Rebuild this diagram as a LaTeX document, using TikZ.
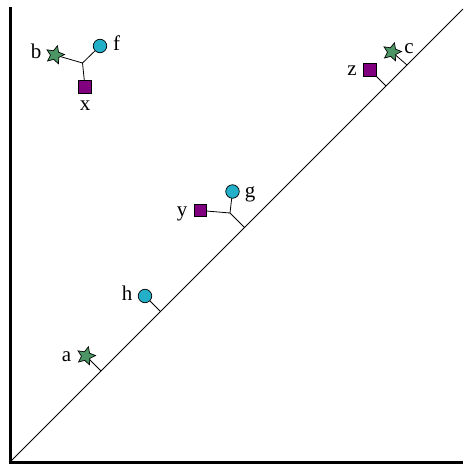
\documentclass[tikz,border=0pt]{standalone}
\usepackage{fontspec}
\setmainfont{Liberation Serif}
\usetikzlibrary{shapes.geometric,backgrounds}
\definecolor{glc}{RGB}{35,175,200}
\definecolor{pur}{RGB}{128,0,128}
\definecolor{grn}{RGB}{75,150,100}
\begin{document}
\begin{tikzpicture}[x=1pt,y=-1pt,
 circ/.style={circle,draw,fill=glc,minimum size=13.5pt,inner sep=0pt,line width=0.7pt},
 sq/.style={rectangle,draw,fill=pur,minimum size=12.5pt,inner sep=0pt,line width=0.7pt},
 st/.style={star,star points=5,star point ratio=2.1,draw,fill=grn,minimum size=19pt,inner sep=0pt,line width=0.7pt,rotate=-15},
 lab/.style={font=\fontsize{21}{21}\selectfont,inner sep=0pt,anchor=base},
 bond/.style={line width=0.8pt},
 axis/.style={line width=3pt}]
\useasboundingbox (0,0) rectangle (464,464);
% axes
\coordinate (top) at (10,7);
\coordinate (org) at (10,462);
\coordinate (right) at (463,462);
\coordinate (d0) at (11,461);
\coordinate (d1) at (463,9);
\draw[axis] (top) -- (org) -- (right);
\draw[bond] (d0) -- (d1);
% attach points on diagonal
\coordinate (pa) at (101,371);
\coordinate (ph) at (160.5,311.5);
\coordinate (pyg) at (244.5,227.5);
\coordinate (pz) at (386,86);
\coordinate (pc) at (407,65);
% residues
\node[st] (a) at (86,356) {};
\node[circ] (h) at (145,296) {};
\coordinate (jyg) at (230,213);
\node[sq] (y) at (200.5,210.5) {};
\node[circ] (g) at (232.5,191.5) {};
\node[sq] (z) at (370,70) {};
\node[st] (c) at (392,52) {};
\coordinate (jbx) at (82.5,63);
\node[st] (b) at (55,55) {};
\node[circ] (f) at (100,46) {};
\node[sq] (x) at (85,87) {};
% bonds
\begin{scope}[on background layer]
\draw[bond] (a.center) -- (pa);
\draw[bond] (h.center) -- (ph);
\draw[bond] (y.center) -- (jyg) -- (pyg);
\draw[bond] (g.center) -- (jyg);
\draw[bond] (z.center) -- (pz);
\draw[bond] (c.center) -- (pc);
\draw[bond] (b.center) -- (jbx) -- (x.center);
\draw[bond] (f.center) -- (jbx);
\end{scope}
% labels
\node[lab] (la) at (66.5,361) {a};
\node[lab] (lh) at (127,300) {h};
\node[lab] (ly) at (182,216) {y};
\node[lab] (lg) at (250,197) {g};
\node[lab] (lz) at (352,75.5) {z};
\node[lab] (lc) at (409,53.5) {c};
\node[lab] (lb) at (36,58.5) {b};
\node[lab] (lf) at (116.5,50) {f};
\node[lab] (lx) at (85,110) {x};
\end{tikzpicture}
\end{document}
